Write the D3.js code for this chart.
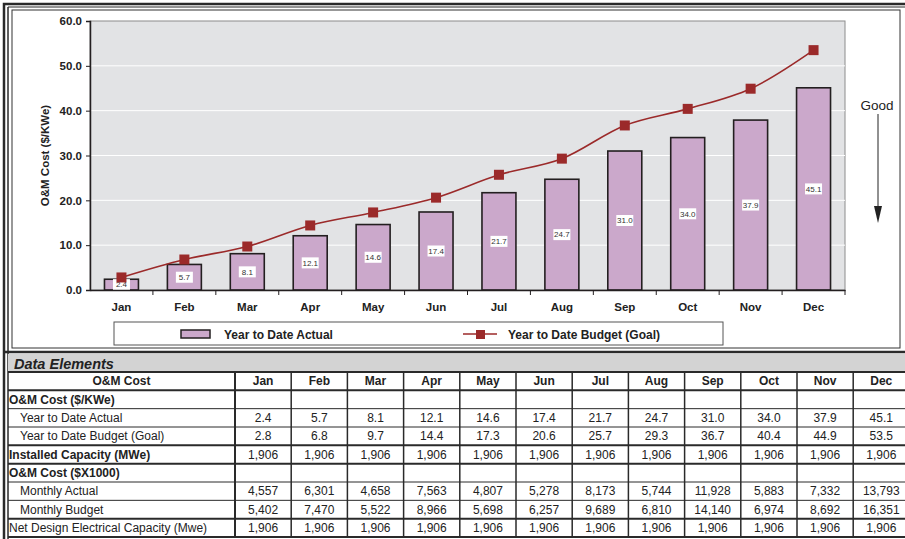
<!DOCTYPE html>
<html>
<head>
<meta charset="utf-8">
<script src="https://cdn.jsdelivr.net/npm/d3@7"></script>
<style>
  body { margin: 0; background: #fff; }
  svg { display: block; font-family: "Liberation Sans", Arial, sans-serif; }
</style>
</head>
<body>
<script>
var months = ["Jan", "Feb", "Mar", "Apr", "May", "Jun", "Jul", "Aug", "Sep", "Oct", "Nov", "Dec"];
var ytdActual = [2.4, 5.7, 8.1, 12.1, 14.6, 17.4, 21.7, 24.7, 31.0, 34.0, 37.9, 45.1];
var ytdBudget = [2.8, 6.8, 9.7, 14.4, 17.3, 20.6, 25.7, 29.3, 36.7, 40.4, 44.9, 53.5];
var installedCap = [1906, 1906, 1906, 1906, 1906, 1906, 1906, 1906, 1906, 1906, 1906, 1906];
var monthlyActual = [4557, 6301, 4658, 7563, 4807, 5278, 8173, 5744, 11928, 5883, 7332, 13793];
var monthlyBudget = [5402, 7470, 5522, 8966, 5698, 6257, 9689, 6810, 14140, 6974, 8692, 16351];
var netDesignCap = [1906, 1906, 1906, 1906, 1906, 1906, 1906, 1906, 1906, 1906, 1906, 1906];
var yTicks = [0, 10, 20, 30, 40, 50, 60];

var barFill = "#cba8cb", lineColor = "#9b2a2a", ink = "#231f20";

var svg = d3.select("body").append("svg")
  .attr("width", 905)
  .attr("height", 539);

// chart frame
svg.append("rect").attr("x", 4).attr("y", 4).attr("width", 910).attr("height", 540)
  .style("fill", "none").style("stroke", "#2a2a2a").style("stroke-width", 2.5);
svg.append("line").attr("x1", 8).attr("x2", 8).attr("y1", 7).attr("y2", 539)
  .style("stroke", "#2a2a2a").style("stroke-width", 1.5);
svg.append("line").attr("x1", 8).attr("x2", 905).attr("y1", 7).attr("y2", 7)
  .style("stroke", "#2a2a2a").style("stroke-width", 1.2);
svg.append("rect").attr("x", 12).attr("y", 10).attr("width", 888).attr("height", 338)
  .style("fill", "#fff").style("stroke", "#333").style("stroke-width", 1);

var x = d3.scaleBand().domain(months).range([90, 845]);
var y = d3.scaleLinear().domain([0, 60]).range([290, 21]);

// plot area
svg.append("rect")
  .attr("x", 90).attr("y", y(60))
  .attr("width", 845 - 90).attr("height", y(0) - y(60))
  .style("fill", "#e2e3e5").style("stroke", "#8c8c8c").style("stroke-width", 1);

svg.append("g").selectAll("line").data(yTicks.slice(1, -1)).join("line")
  .attr("x1", 90).attr("x2", 845)
  .attr("y1", function(d) { return y(d); }).attr("y2", function(d) { return y(d); })
  .style("stroke", "#fff").style("stroke-width", 1);

// bars
var bw = x.bandwidth() * 0.54;
svg.append("g").selectAll("rect").data(ytdActual).join("rect")
  .attr("x", function(d, i) { return x(months[i]) + (x.bandwidth() - bw) / 2; })
  .attr("y", function(d) { return y(d); })
  .attr("width", bw)
  .attr("height", function(d) { return y(0) - y(d); })
  .style("fill", barFill).style("stroke", ink).style("stroke-width", 1.6);

// bar value labels
var labels = svg.append("g").selectAll("g").data(ytdActual).join("g")
  .attr("transform", function(d, i) {
    return "translate(" + (x(months[i]) + x.bandwidth() / 2) + "," + ((y(d) + y(0)) / 2) + ")";
  });
labels.append("rect")
  .attr("x", -8.5).attr("y", -5.5).attr("width", 17).attr("height", 11)
  .style("fill", "#fff");
labels.append("text")
  .attr("text-anchor", "middle").attr("dy", "0.35em")
  .style("font-size", "8px").style("fill", "#333")
  .text(function(d) { return d.toFixed(1); });

// budget line
var line = d3.line()
  .x(function(d, i) { return x(months[i]) + x.bandwidth() / 2; })
  .y(function(d) { return y(d); })
  .curve(d3.curveCatmullRom.alpha(0.5));
svg.append("path").datum(ytdBudget)
  .attr("d", line)
  .style("fill", "none").style("stroke", lineColor).style("stroke-width", 1.6);
svg.append("g").selectAll("rect").data(ytdBudget).join("rect")
  .attr("x", function(d, i) { return x(months[i]) + x.bandwidth() / 2 - 5; })
  .attr("y", function(d) { return y(d) - 5; })
  .attr("width", 10).attr("height", 10)
  .style("fill", lineColor);

// axes
var yAxis = svg.append("g").attr("transform", "translate(90,0)")
  .call(d3.axisLeft(y).tickValues(yTicks).tickFormat(d3.format(".1f")).tickSize(4).tickPadding(4));
yAxis.select(".domain").style("stroke", ink).style("stroke-width", 1.5);
yAxis.selectAll(".tick line").style("stroke", ink);
yAxis.selectAll("text").style("font-size", "11.5px").style("font-weight", "bold").style("fill", "#222")
  .style("font-family", "Liberation Sans, Arial, sans-serif");

var xAxis = svg.append("g").attr("transform", "translate(0," + y(0) + ")")
  .call(d3.axisBottom(x).tickSize(0).tickPadding(13));
xAxis.select(".domain").style("stroke", ink).style("stroke-width", 1.5);
xAxis.selectAll("text").style("font-size", "11.5px").style("font-weight", "bold").style("fill", "#222")
  .style("font-family", "Liberation Sans, Arial, sans-serif");
xAxis.selectAll(".sep").data(months).join("line")
  .attr("class", "sep")
  .attr("x1", function(d) { return x(d) + x.bandwidth(); })
  .attr("x2", function(d) { return x(d) + x.bandwidth(); })
  .attr("y1", 0).attr("y2", 5)
  .style("stroke", ink).style("stroke-width", 1);

svg.append("text")
  .attr("transform", "translate(49," + ((y(0) + y(60)) / 2) + ") rotate(-90)")
  .attr("text-anchor", "middle")
  .style("font-size", "11.5px").style("font-weight", "bold").style("fill", "#222")
  .text("O&M Cost ($/KWe)");

// Good arrow
svg.append("text").attr("x", 877).attr("y", 110).attr("text-anchor", "middle")
  .style("font-size", "13.5px").style("fill", "#222").text("Good");
svg.append("line").attr("x1", 878).attr("x2", 878).attr("y1", 114).attr("y2", 210)
  .style("stroke", "#222").style("stroke-width", 1);
svg.append("path").attr("d", "M874,206 L882,206 L878,223 Z").style("fill", "#222");

// legend
svg.append("rect").attr("x", 114).attr("y", 322).attr("width", 609).attr("height", 23)
  .style("fill", "#fff").style("stroke", "#555").style("stroke-width", 1);
svg.append("rect").attr("x", 181).attr("y", 330).attr("width", 29).attr("height", 8)
  .style("fill", barFill).style("stroke", ink).style("stroke-width", 1.5);
svg.append("text").attr("x", 224).attr("y", 338.5)
  .style("font-size", "12px").style("font-weight", "bold").style("fill", "#222")
  .text("Year to Date Actual");
svg.append("line").attr("x1", 463).attr("x2", 497).attr("y1", 334).attr("y2", 334)
  .style("stroke", lineColor).style("stroke-width", 1.6);
svg.append("rect").attr("x", 476).attr("y", 330).attr("width", 9).attr("height", 9)
  .style("fill", lineColor);
svg.append("text").attr("x", 508).attr("y", 338.5)
  .style("font-size", "12px").style("font-weight", "bold").style("fill", "#222")
  .text("Year to Date Budget (Goal)");

// data table
svg.append("line").attr("x1", 4).attr("x2", 905).attr("y1", 352).attr("y2", 352)
  .style("stroke", "#2a2a2a").style("stroke-width", 2.5);
svg.append("rect").attr("x", 8).attr("y", 354).attr("width", 900).attr("height", 18)
  .style("fill", "#d3d3d3");
svg.append("text").attr("x", 14).attr("y", 368.5)
  .style("font-size", "14.5px").style("font-weight", "bold").style("font-style", "italic").style("fill", "#222")
  .text("Data Elements");

var fmtInt = d3.format(",");
var fmt1 = function(d) { return d.toFixed(1); };
var rows = [
  { label: "O&M Cost ($/KWe)", bold: true, indent: false, values: null },
  { label: "Year to Date Actual", bold: false, indent: true, values: ytdActual.map(fmt1) },
  { label: "Year to Date Budget (Goal)", bold: false, indent: true, values: ytdBudget.map(fmt1) },
  { label: "Installed Capacity (MWe)", bold: true, indent: false, values: installedCap.map(fmtInt) },
  { label: "O&M Cost ($X1000)", bold: true, indent: false, values: null },
  { label: "Monthly Actual", bold: false, indent: true, values: monthlyActual.map(fmtInt) },
  { label: "Monthly Budget", bold: false, indent: true, values: monthlyBudget.map(fmtInt) },
  { label: "Net Design Electrical Capacity (Mwe)", bold: false, indent: false, values: netDesignCap.map(fmtInt) }
];

var colX = d3.scaleBand().domain(months).range([235, 235 + 12 * 56.2]);
var rowY = d3.scaleBand().domain(d3.range(rows.length + 1)).range([372, 537]);
var table = svg.append("g");
var fs = "12px";

// header row
table.append("text").attr("x", (8 + 235) / 2).attr("y", rowY(0) + rowY.bandwidth() / 2).attr("dy", "0.35em")
  .attr("text-anchor", "middle").style("font-size", fs).style("font-weight", "bold").style("fill", "#222")
  .text("O&M Cost");
table.selectAll(".mh").data(months).join("text").attr("class", "mh")
  .attr("x", function(d) { return colX(d) + colX.bandwidth() / 2; })
  .attr("y", rowY(0) + rowY.bandwidth() / 2).attr("dy", "0.35em")
  .attr("text-anchor", "middle").style("font-size", fs).style("font-weight", "bold").style("fill", "#222")
  .text(function(d) { return d; });

rows.forEach(function(r, ri) {
  var cy = rowY(ri + 1) + rowY.bandwidth() / 2;
  table.append("text").attr("x", r.indent ? 20 : 9).attr("y", cy).attr("dy", "0.35em")
    .style("font-size", fs).style("font-weight", r.bold ? "bold" : "normal").style("fill", "#222")
    .text(r.label);
  if (r.values) {
    table.append("g").selectAll("text").data(r.values).join("text")
      .attr("x", function(d, i) { return colX(months[i]) + colX.bandwidth() / 2; })
      .attr("y", cy).attr("dy", "0.35em")
      .attr("text-anchor", "middle").style("font-size", fs).style("fill", "#222")
      .text(function(d) { return d; });
  }
});

// table grid
var thickRows = [0, 1, 4, 5, 8, 9];
d3.range(rows.length + 2).forEach(function(k) {
  var yy = k <= rows.length ? rowY(k) : 537;
  table.append("line").attr("x1", 8).attr("x2", 905).attr("y1", yy).attr("y2", yy)
    .style("stroke", "#2a2a2a").style("stroke-width", thickRows.indexOf(k) >= 0 ? 2 : 1);
});
var vx = [235].concat(months.map(function(m) { return colX(m) + colX.bandwidth(); }));
table.selectAll(".vl").data(vx).join("line").attr("class", "vl")
  .attr("x1", function(d) { return d; }).attr("x2", function(d) { return d; })
  .attr("y1", 372).attr("y2", 537)
  .style("stroke", "#2a2a2a").style("stroke-width", function(d, i) { return i === 0 ? 2 : 1.5; });
</script>
</body>
</html>
